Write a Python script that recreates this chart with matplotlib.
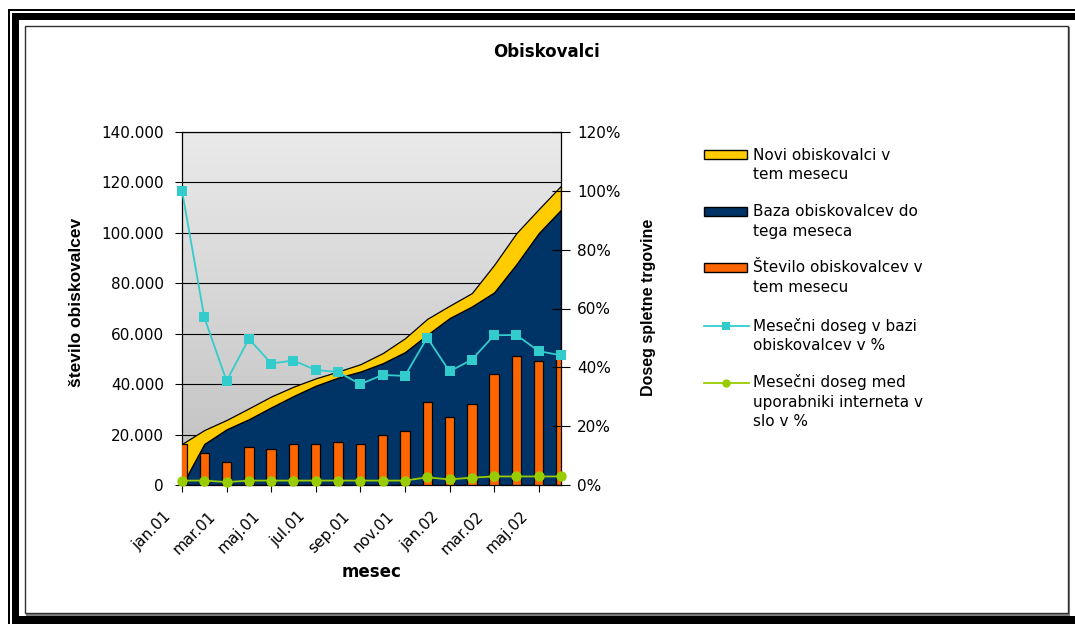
import numpy as np
import matplotlib
matplotlib.use("Agg")
import matplotlib.pyplot as plt
from matplotlib.colors import LinearSegmentedColormap
from matplotlib.patches import Rectangle
from matplotlib.lines import Line2D
from matplotlib.transforms import ScaledTranslation
from matplotlib.ticker import FuncFormatter

# ---------------- data ----------------
months = ["jan.01", "feb.01", "mar.01", "apr.01", "maj.01", "jun.01", "jul.01", "avg.01",
          "sep.01", "okt.01", "nov.01", "dec.01", "jan.02", "feb.02", "mar.02", "apr.02",
          "maj.02", "jun.02"]
baza = [0, 16300, 22100, 26100, 30800, 35300, 39400, 42600, 45000, 48300, 52700,
        59600, 66200, 70800, 76400, 87600, 99900, 109200]
novi = [16300, 5500, 3700, 4300, 4300, 3700, 2900, 2400, 2900, 4000, 5500,
        6300, 4900, 5300, 10900, 12300, 9500, 9500]
stevilo = [16300, 12800, 9000, 14900, 14400, 16100, 16100, 17200, 16100, 19800, 21400,
           32800, 26900, 32300, 44100, 51300, 49100, 50400]
doseg_baza = [100.1, 57.0, 35.4, 49.7, 41.3, 42.3, 39.1, 38.4, 34.3, 37.4, 37.1,
              50.1, 38.6, 42.6, 50.9, 51.0, 45.5, 44.1]
doseg_internet = [1.5, 1.5, 1.0, 1.5, 1.5, 1.5, 1.5, 1.5, 1.5, 1.5, 1.5,
                  2.6, 1.9, 2.5, 2.9, 2.9, 2.9, 2.9]

labels_legend = [["Novi obiskovalci v", "tem mesecu"],
                 ["Baza obiskovalcev do", "tega meseca"],
                 ["Število obiskovalcev v", "tem mesecu"],
                 ["Mesečni doseg v bazi", "obiskovalcev v %"],
                 ["Mesečni doseg med", "uporabniki interneta v", "slo v %"]]

YELLOW = "#FFCC00"
NAVY = "#003366"
ORANGE = "#FF6600"
CYAN = "#33CCCC"
GREEN = "#99CC00"

plt.rcParams['font.family'] = ['DejaVu Sans']

W, H = 1075, 624
fig = plt.figure(figsize=(W / 100, H / 100), dpi=100)
fig.patch.set_facecolor("white")


def fx(x):
    return x / W


def fy(y):
    return 1 - y / H


# ---------------- frame ----------------
def rect_px(x0, y0, x1, y1, **kw):
    fig.add_artist(Rectangle((fx(x0), fy(y1)), (x1 - x0) / W, (y1 - y0) / H,
                             transform=fig.transFigure, **kw))


rect_px(8, 9, 10, 624, color="black", lw=0)
rect_px(8, 9, 1075, 11, color="black", lw=0)
rect_px(12, 13, 19, 624, color="black", lw=0)
rect_px(12, 13, 1075, 20, color="black", lw=0)
rect_px(12, 616, 1075, 624, color="black", lw=0)
# inner chart area border with shadow
rect_px(26, 614, 1070, 615.5, color="#808080", lw=0)
rect_px(1068.5, 27, 1070, 615.5, color="#808080", lw=0)
rect_px(25, 26, 1068, 613, facecolor="none", edgecolor="#303030", lw=1.0)

# ---------------- axes ----------------
L, R, T, B = 182, 561, 132, 485
ax = fig.add_axes([fx(L), fy(B), (R - L) / W, (B - T) / H])
x = np.arange(len(months))

cmap = LinearSegmentedColormap.from_list("bg", ["#eaeaea", "#c0c0c0"])
ax.imshow(np.linspace(0, 1, 256).reshape(-1, 1), extent=[0, 1, 0, 1],
          transform=ax.transAxes, cmap=cmap, aspect="auto", zorder=0)

ax.stackplot(x, baza, novi, colors=[NAVY, YELLOW], edgecolor="black",
             linewidth=0.9, zorder=1)
ax.bar(x, stevilo, width=0.42, color=ORANGE, edgecolor="black", linewidth=0.9, zorder=3)

ax.set_xlim(0, len(months) - 1)
ax.set_ylim(0, 140000)
ax.set_yticks(np.arange(0, 140001, 20000))
ax.yaxis.set_major_formatter(FuncFormatter(lambda v, p: f"{int(v):,}".replace(",", ".")))
ax.set_axisbelow(True)
ax.yaxis.grid(True, color="black", lw=0.8)
ax.tick_params(axis="y", direction="out", length=5, width=0.8, pad=8, labelsize=11)

xt = list(range(0, len(months), 2))
ax.set_xticks(xt)
ax.set_xticklabels([months[i] for i in xt], rotation=45, ha="right", va="top")
ax.tick_params(axis="x", direction="out", length=5, width=0.8, pad=12, labelsize=11)
off = ScaledTranslation(-8 / 100, 0, fig.dpi_scale_trans)
for lab in ax.get_xticklabels():
    lab.set_transform(lab.get_transform() + off)

for s in ["left", "bottom", "top"]:
    ax.spines[s].set_color("black")
    ax.spines[s].set_linewidth(0.9)
ax.spines["right"].set_visible(False)

ax.set_xlabel("mesec", fontsize=12, fontweight="bold")
ax.xaxis.label.set_va("center")
ax.xaxis.set_label_coords(0.5, (B - 572) / (B - T))
ax.set_ylabel("število obiskovalcev", fontsize=12.5, fontweight="bold",
              family=["Liberation Sans", "DejaVu Sans"])
ax.yaxis.label.set_va("center")
ax.yaxis.set_label_coords((77 - L) / (R - L), (B - 302) / (B - T))

ax2 = ax.twinx()
ax2.plot(x, doseg_baza, color=CYAN, lw=1.3, marker="s", markersize=6.5,
         markeredgewidth=0, clip_on=False, zorder=5)
ax2.plot(x, doseg_internet, color=GREEN, lw=1.3, marker="o", markersize=7.5,
         markeredgewidth=0, clip_on=False, zorder=5)
ax2.set_ylim(0, 120)
ax2.set_yticks(np.arange(0, 121, 20))
ax2.yaxis.set_major_formatter(FuncFormatter(lambda v, p: f"{int(v)}%"))
ax2.tick_params(axis="y", direction="inout", length=13, width=0.8, pad=5, labelsize=11)
for s in ["left", "bottom", "top"]:
    ax2.spines[s].set_visible(False)
ax2.spines["right"].set_color("black")
ax2.spines["right"].set_linewidth(0.9)
ax2.set_ylabel("Doseg spletne trgovine", fontsize=11.5, fontweight="bold",
               family=["Liberation Sans", "DejaVu Sans"])
ax2.yaxis.label.set_rotation(90)
ax2.yaxis.label.set_va("center")
ax2.yaxis.set_label_coords((648 - L) / (R - L), (B - 307) / (B - T))

# ---------------- title ----------------
fig.text(fx(547), fy(52), "Obiskovalci", ha="center", va="center",
         fontsize=12, fontweight="bold")

# ---------------- legend (manual) ----------------
first_lines = [154, 211, 267, 325, 382]
line_gap = 19.5
patch_colors = [YELLOW, NAVY, ORANGE]
for i, y0 in enumerate(first_lines):
    if i < 3:
        rect_px(704, y0 - 4.5, 747, y0 + 4.5, facecolor=patch_colors[i],
                edgecolor="black", lw=1.0)
    else:
        col = CYAN if i == 3 else GREEN
        mk = "s" if i == 3 else "o"
        fig.add_artist(Line2D([fx(704), fx(749)], [fy(y0 + 1), fy(y0 + 1)],
                              transform=fig.transFigure, color=col, lw=1.3))
        fig.add_artist(Line2D([fx(726)], [fy(y0 + 1)], transform=fig.transFigure,
                              color=col, marker=mk, markersize=6, markeredgewidth=0))
    for j, t in enumerate(labels_legend[i]):
        fig.text(fx(753), fy(y0 + j * line_gap + 5.5), t, ha="left", va="baseline",
                 fontsize=11)

fig.savefig("out.png", dpi=100)
